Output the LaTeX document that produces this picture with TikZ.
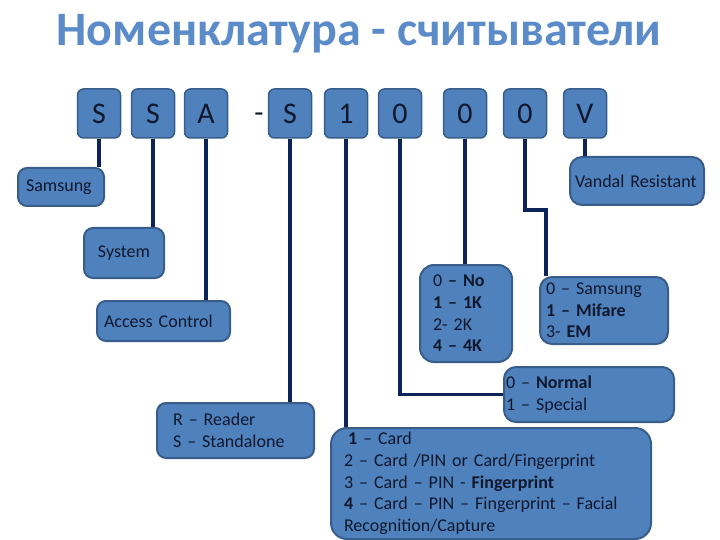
\documentclass[tikz,border=0pt]{standalone}
\usepackage{fontspec}
\setmainfont{Carlito}
\usepackage{xcolor}
\usepackage{tikz}
\usetikzlibrary{positioning, calc}
\definecolor{boxblue}{HTML}{4F81BD}
\definecolor{boxedge}{HTML}{385D8A}
\definecolor{wirenavy}{HTML}{0E2358}
\definecolor{titleblue}{HTML}{5B8CC9}
\definecolor{inktext}{HTML}{10182E}

\begin{document}
\begin{tikzpicture}[x=1pt, y=-1pt,
    letter/.style={fill=boxblue, draw=boxedge, line width=1.5pt, rounded corners=6pt,
      minimum width=43pt, minimum height=49pt, inner sep=0pt, text=inktext,
      font=\fontsize{30}{30}\selectfont},
    descbox/.style={anchor=north west, fill=boxblue, draw=boxedge, line width=2pt,
      rounded corners=9pt, align=left, text=inktext, inner ysep=0pt,
      font=\fontsize{18}{21.7}\selectfont},
    wire/.style={draw=wirenavy, line width=3.7pt}]
  \useasboundingbox (0,0) rectangle (720,540);

  \node[text=titleblue, font=\fontsize{48}{48}\selectfont\bfseries] (title) at (359,34)
    {Номенклатура - считыватели};

  % code letters
  \foreach \name/\px/\ch in {l1/99/S, l2/153/S, l3/206/A, l4/290/S, l5/346/1,
                             l6/400/0, l7/465/0, l8/525/0, l9/585/V}
    \node[letter] (\name) at (\px,113.5) {\ch};
  \node[text=inktext, inner sep=0pt, anchor=base, font=\fontsize{30}{30}\selectfont] (dash) at (259,123) {-};

  % meaning boxes
  \node[descbox, text width=70pt, inner xsep=8pt, minimum height=38pt] (samsung) at (17,167) {Samsung};
  \node[descbox, text width=64pt, inner xsep=8pt, minimum height=50pt, align=center] (system) at (83,227) {System};
  \node[descbox, text width=119pt, inner xsep=7pt, minimum height=40pt] (access) at (96,300) {Access Control};
  \node[descbox, text width=125pt, inner xsep=16pt, minimum height=55pt] (reader) at (156,402)
    {R – Reader\\S – Standalone};
  \node[descbox, text width=294pt, inner xsep=13pt, minimum height=111pt, rounded corners=16pt] (card) at (330,427)
    {\hspace{4pt}\textbf{1} – Card\\
     2 – Card /PIN or Card/Fingerprint\\
     3 – Card – PIN - \textbf{Fingerprint}\\
     \textbf{4} – Card – PIN – Fingerprint – Facial\\
     Recognition/Capture};
  \node[descbox, text width=66pt, inner xsep=13pt, minimum height=97pt, rounded corners=14pt] (memory) at (419,264)
    {0 \textbf{– No}\\ \textbf{1 – 1K}\\ 2- 2K\\ \textbf{4 – 4K}};
  \node[descbox, text width=116pt, inner xsep=6pt, minimum height=67pt, rounded corners=12pt] (cardtype) at (539,276)
    {0 – Samsung\\ \textbf{1 – Mifare}\\ 3- \textbf{EM}};
  \node[descbox, text width=166pt, inner xsep=2pt, minimum height=55pt, rounded corners=12pt] (normal) at (503,366)
    {0 – \textbf{Normal}\\ 1 – Special};
  \node[descbox, text width=124pt, inner xsep=5pt, minimum height=48pt, rounded corners=12pt] (vandal) at (569,156)
    {Vandal Resistant};

  % connectors
  \draw[wire] (l1.south) -- (l1.south |- samsung.north);
  \draw[wire] (l2.south) -- (l2.south |- system.north);
  \draw[wire] (l3.south) -- (l3.south |- access.north);
  \draw[wire] (l4.south) -- (l4.south |- reader.north);
  \draw[wire] (l5.south) -- (l5.south |- card.north);
  \draw[wire] (l6.south) |- (normal.west);
  \draw[wire] (l7.south) -- (l7.south |- memory.north);
  \coordinate (jog) at (546,210);
  \draw[wire] (l8.south) |- (jog) -- (jog |- cardtype.north);
  \draw[wire] (l9.south) -- (l9.south |- vandal.north);
\end{tikzpicture}
\end{document}
